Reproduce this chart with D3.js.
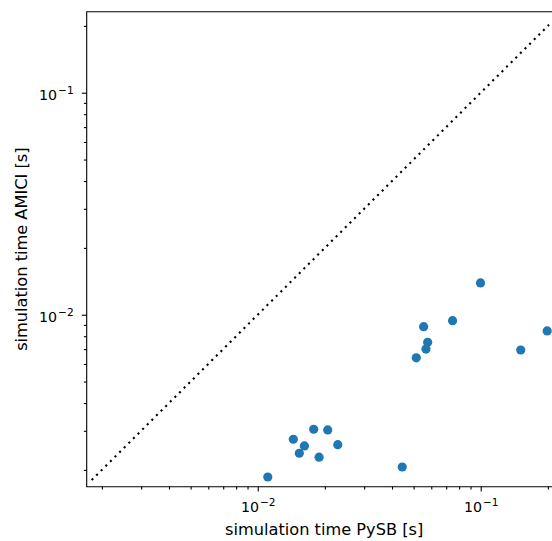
<!DOCTYPE html>
<html>
<head>
<meta charset="utf-8">
<script src="https://cdn.jsdelivr.net/npm/d3@7"></script>
<style>
  body { margin: 0; background: #fff; }
  svg { display: block; font-family: "DejaVu Sans", sans-serif; }
</style>
</head>
<body>
<div id="chart"></div>
<script>
// simulation times in seconds
const pysbTimes = [0.01109, 0.01444, 0.01619, 0.01536, 0.01782, 0.02060, 0.01884, 0.02285,
  0.04446, 0.05140, 0.05546, 0.05781, 0.05681, 0.07476, 0.09975, 0.1511, 0.1986];
const amiciTimes = [0.001858, 0.002748, 0.002564, 0.002377, 0.003048, 0.003027, 0.002282, 0.002597,
  0.002061, 0.006397, 0.008831, 0.007513, 0.007004, 0.009397, 0.01390, 0.006934, 0.008452];

const xDomain = [0.00171, 0.2307];
const yDomain = [0.00168, 0.2317];
const identityLine = [0.00180, 0.2025];

const majorTicks = [0.01, 0.1];
const majorLabels = ['−2', '−1'];
const minorTicks = [0.002, 0.003, 0.004, 0.005, 0.006, 0.007, 0.008, 0.009,
  0.02, 0.03, 0.04, 0.05, 0.06, 0.07, 0.08, 0.09, 0.2];

const xLabel = 'simulation time PySB [s]';
const yLabel = 'simulation time AMICI [s]';

const width = 552;
const height = 541;
const plot = { left: 86.7, top: 11.7, right: 561.7, bottom: 486.7 };

const svg = d3.select('#chart')
  .append('svg')
  .attr('width', width)
  .attr('height', height);

const x = d3.scaleLog().domain(xDomain).range([plot.left, plot.right]);
const y = d3.scaleLog().domain(yDomain).range([plot.bottom, plot.top]);

function drawAxis(axisFn, scale, transform) {
  const minor = svg.append('g')
    .attr('transform', transform)
    .call(axisFn(scale).tickValues(minorTicks).tickSize(2.8).tickSizeOuter(0).tickFormat(''));
  minor.select('.domain').remove();
  minor.selectAll('.tick text').remove();

  const major = svg.append('g')
    .attr('transform', transform)
    .call(axisFn(scale).tickValues(majorTicks).tickSize(4.9).tickSizeOuter(0).tickFormat(''));
  major.select('.domain').remove();
  major.selectAll('.tick text').remove();

  svg.selectAll('.tick line').attr('stroke', '#000').attr('stroke-width', 1.1);
  return major;
}

function addPowerLabel(tick, label, x0, y0, anchor) {
  const t = tick.append('text')
    .attr('fill', '#000')
    .style('font-family', '"DejaVu Sans", sans-serif')
    .style('font-size', '14.2px')
    .attr('text-anchor', anchor)
    .attr('x', x0)
    .attr('y', y0);
  t.append('tspan').text('10');
  t.append('tspan').style('font-size', '10.6px').attr('dx', 1).attr('dy', -6).text(label);
}

// ticks
const xMajor = drawAxis(d3.axisBottom, x, `translate(0,${plot.bottom})`);
const yMajor = drawAxis(d3.axisLeft, y, `translate(${plot.left},0)`);

xMajor.selectAll('.tick').each(function(d, i) {
  addPowerLabel(d3.select(this), majorLabels[i], 0, 25, 'middle');
});

yMajor.selectAll('.tick').each(function(d, i) {
  addPowerLabel(d3.select(this), majorLabels[i], -13, 7, 'end');
});

// spines
svg.append('path')
  .attr('d', `M${plot.left},${plot.top}H${plot.right}V${plot.bottom}H${plot.left}Z`)
  .attr('fill', 'none')
  .attr('stroke', '#000')
  .attr('stroke-width', 1.1);

// y = x reference line
svg.append('line')
  .attr('x1', x(identityLine[0]))
  .attr('y1', y(identityLine[0]))
  .attr('x2', x(identityLine[1]))
  .attr('y2', y(identityLine[1]))
  .attr('stroke', '#000')
  .attr('stroke-width', 2.1)
  .attr('stroke-dasharray', '2.1 4.4');

// points
svg.append('g')
  .selectAll('circle')
  .data(pysbTimes.map((v, i) => [v, amiciTimes[i]]))
  .enter().append('circle')
  .attr('cx', d => x(d[0]))
  .attr('cy', d => y(d[1]))
  .attr('r', 4.6)
  .attr('fill', '#1f77b4');

// axis labels
svg.append('text')
  .attr('x', (plot.left + plot.right) / 2)
  .attr('y', 535)
  .attr('text-anchor', 'middle')
  .style('font-size', '16.2px')
  .attr('fill', '#000')
  .text(xLabel);

svg.append('text')
  .attr('transform', `translate(26.5,${(plot.top + plot.bottom) / 2}) rotate(-90)`)
  .attr('text-anchor', 'middle')
  .style('font-size', '16.2px')
  .attr('fill', '#000')
  .text(yLabel);
</script>
</body>
</html>
